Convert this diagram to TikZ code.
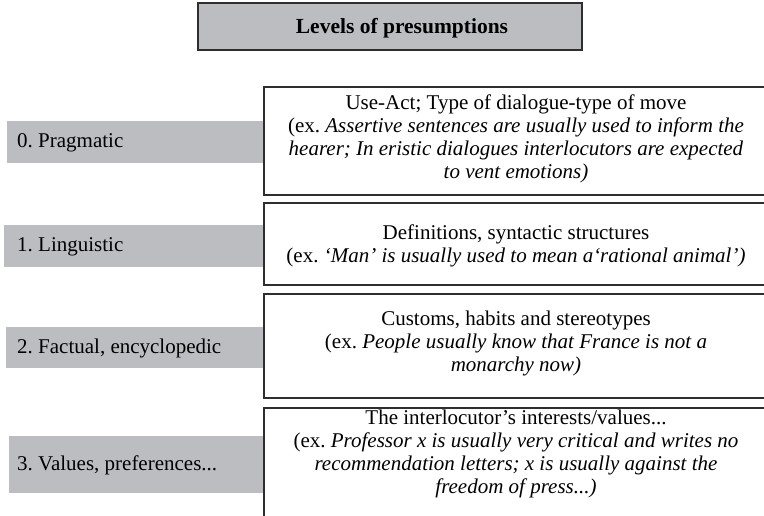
\documentclass[tikz,border=0pt]{standalone}
\usepackage{fontspec}
\setmainfont{Liberation Serif}
\frenchspacing
\definecolor{levelgray}{HTML}{BCBDC1}
\definecolor{edge}{HTML}{2E2E2E}
\tikzset{
  x=1pt, y=-1pt,
  levelband/.style={fill=levelgray, draw=none},
  levellabel/.style={anchor=west, inner sep=0pt, font=\fontsize{21}{23}\selectfont},
  examplebox/.style={draw=edge, line width=1.8pt, fill=white},
  exampletext/.style={align=center, inner sep=0pt, font=\fontsize{21}{23}\selectfont},
}
\begin{document}
\begin{tikzpicture}
\useasboundingbox (0,0) rectangle (764,515);
\clip (0,0) rectangle (764,515);

% title banner
\draw[fill=levelgray, draw=edge, line width=1.6pt] (198,3) rectangle (582,50);
\node[inner sep=0pt, font=\fontsize{21.5}{23}\selectfont\bfseries] (title) at (402,28) {Levels of presumptions};

% grey level bands
\fill[levelband] (7,121) rectangle (264,163);
\fill[levelband] (4,225) rectangle (264,267);
\fill[levelband] (6,327) rectangle (264,368);
\fill[levelband] (9,436) rectangle (264,493);

\node[levellabel] (l0) at (17,143) {0. Pragmatic};
\node[levellabel] (l1) at (17,247) {1. Linguistic};
\node[levellabel] (l2) at (17,348.5) {2. Factual, encyclopedic};
\node[levellabel] (l3) at (17,465.5) {3. Values, preferences...};

% description boxes
\draw[examplebox] (264,87) rectangle (770,195);
\draw[examplebox] (264,203) rectangle (770,285);
\draw[examplebox] (264,294) rectangle (770,398);
\draw[examplebox] (264,408) rectangle (770,530);

\node[exampletext] (d0) at (516,139) {Use-Act; Type of dialogue-type of move\\
  (ex. \textit{Assertive sentences are usually used to inform the}\\
  \textit{hearer; In eristic dialogues interlocutors are expected}\\
  \textit{to vent emotions)}};
\node[exampletext] (d1) at (516,246) {Definitions, syntactic structures\\
  (ex. \textit{‘Man’ is usually used to mean a‘rational animal’)}};
\node[exampletext] (d2) at (516,343) {Customs, habits and stereotypes\\
  (ex. \textit{People usually know that France is not a}\\
  \textit{monarchy now)}};
\node[exampletext] (d3) at (516,454) {The interlocutor’s interests/values...\\
  (ex. \textit{Professor x is usually very critical and writes no}\\
  \textit{recommendation letters; x is usually against the}\\
  \textit{freedom of press...)}};
\end{tikzpicture}
\end{document}
